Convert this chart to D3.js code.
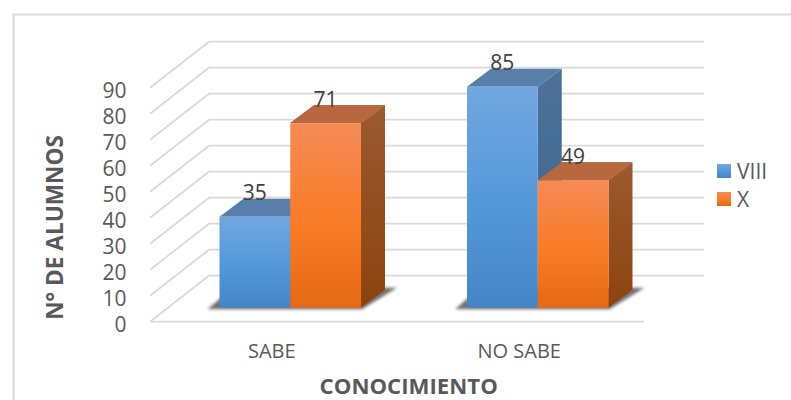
<!DOCTYPE html>
<html><head><meta charset="utf-8">
<script src="https://cdn.jsdelivr.net/npm/d3@7/dist/d3.min.js"></script>
<style>html,body{margin:0;padding:0;background:#fff}svg{display:block}text{font-family:"Open Sans",sans-serif}</style>
</head><body><svg id="c" width="791" height="400"></svg>
<script>
const categories = ["SABE", "NO SABE"];
const seriesNames = ["VIII", "X"];
const valuesVIII = [35, 85];
const valuesX = [71, 49];
const tickValues = [0,10,20,30,40,50,60,70,80,90];
const yTitle = "N° DE ALUMNOS";
const xTitle = "CONOCIMIENTO";

const svg = d3.select("#c");
const defs = svg.append("defs");
function grad(id, stops){
  const g = defs.append("linearGradient").attr("id",id).attr("x1",0).attr("y1",0).attr("x2",0).attr("y2",1);
  stops.forEach(([o,c])=>g.append("stop").attr("offset",o).attr("stop-color",c));
}
grad("fVIII",[[0,"#72a7e0"],[0.5,"#5599da"],[1,"#4485c8"]]);
grad("fX",[[0,"#f58b57"],[0.55,"#f97b25"],[1,"#e56a14"]]);
grad("sVIII",[[0,"#4e7199"],[1,"#36668f"]]);
grad("sX",[[0,"#9b5a30"],[1,"#8e430e"]]);
const tops = {VIII:"#587fa9", X:"#b7683e"};
defs.append("filter").attr("id","blur").attr("x","-20%").attr("y","-50%").attr("width","140%").attr("height","200%")
  .append("feGaussianBlur").attr("stdDeviation",1.8);

// frame
svg.append("path").attr("d","M791,14.5H13.5V400").attr("fill","none").attr("stroke","#d9d9d9").attr("stroke-width",2);

// scales
const y = d3.scaleLinear().domain([0,90]).range([321.7,87.7]);
const x0 = d3.scaleBand().domain(categories).range([166.5,661.5]);
const x1 = d3.scaleBand().domain(seriesNames).range([53,194.5]);
const floorLeft = 150, floorRight = 644, wallRight = 704;
const wallDx = 59, wallDy = -46;
const barPlaneDy = -14;
const depthDx = 24, depthDy = -18;

// grid
const grid = svg.append("g").attr("fill","none").attr("stroke","#d9d9d9").attr("stroke-width",1.8);
tickValues.forEach(v=>{
  grid.append("path").attr("d",`M${floorLeft},${y(v)}L${floorLeft+wallDx},${y(v)+wallDy}H${wallRight}`);
});
grid.append("path").attr("d",`M${floorLeft},${y(0)}H${floorRight}`);

// axis labels
const yAxis = svg.append("g").attr("transform","translate(126.5,3)")
  .call(d3.axisLeft(y).tickValues(tickValues).tickSize(0).tickPadding(0));
yAxis.select(".domain").remove();
yAxis.selectAll("text").attr("fill","#595959").style("font-size","21px").style("font-family",'"Open Sans",sans-serif');

const xAxis = svg.append("g").attr("transform","translate(-18.5,344)")
  .call(d3.axisBottom(x0).tickSize(0).tickPadding(0));
xAxis.select(".domain").remove();
xAxis.selectAll("text").attr("fill","#595959").style("font-size","20px").style("font-family",'"Open Sans",sans-serif');

svg.append("text").attr("transform","translate(54,227.5) rotate(-90)").attr("text-anchor","middle").attr("dominant-baseline","central")
  .attr("fill","#595959").style("font-size","22.6px").style("font-weight",700).text(yTitle);
svg.append("text").attr("x",408.7).attr("y",385.5).attr("text-anchor","middle").attr("dominant-baseline","central")
  .attr("fill","#595959").style("font-size","22.2px").style("font-weight",700).text(xTitle);

// bars
const base = y(0)+barPlaneDy;
const rows = categories.map((c,i)=>({c, VIII:valuesVIII[i], X:valuesX[i]}));
const bw = x1.bandwidth();
rows.forEach(r=>{
  const gx = x0(r.c);
  const left = gx+x1("VIII"), right = gx+x1("X")+bw;
  svg.append("polygon")
    .attr("points",[[left-12,base+1.5],[right+1,base+1.5],[right+36,base-20],[left+13,base-20]].join(" "))
    .attr("fill","#3a3a3a").attr("opacity",0.72).attr("filter","url(#blur)");
  seriesNames.slice().reverse().forEach(s=>{
    const bx = gx+x1(s), by = y(r[s])+barPlaneDy;
    const g = svg.append("g");
    g.append("polygon").attr("points",[[bx+bw,by],[bx+bw+depthDx,by+depthDy],[bx+bw+depthDx,base+depthDy],[bx+bw,base]].join(" "))
      .attr("fill",`url(#s${s})`);
    g.append("polygon").attr("points",[[bx,by],[bx+depthDx,by+depthDy],[bx+bw+depthDx,by+depthDy],[bx+bw,by]].join(" "))
      .attr("fill",tops[s]);
  });
  ["VIII","X"].forEach(s=>{
    const bx = gx+x1(s), by = y(r[s])+barPlaneDy;
    svg.append("rect").attr("x",bx).attr("y",by).attr("width",bw).attr("height",base-by).attr("fill",`url(#f${s})`);
    if(s==="X"){
      svg.append("polygon").attr("points",[[bx,by],[bx+depthDx,by+depthDy],[bx+bw+depthDx,by+depthDy],[bx+bw,by]].join(" ")).attr("fill",tops[s]);
    }
  });
  seriesNames.forEach(s=>{
    svg.append("text").attr("x",gx+x1(s)+bw/2).attr("y",y(r[s])+barPlaneDy-24.5)
      .attr("text-anchor","middle").attr("dominant-baseline","central")
      .attr("fill","#404040").style("font-size","21px").text(r[s]);
  });
});

// legend
const legendY = d3.scalePoint().domain(seriesNames).range([171,199]);
seriesNames.forEach(s=>{
  svg.append("rect").attr("x",717).attr("y",legendY(s)-7).attr("width",14).attr("height",14).attr("fill",`url(#f${s})`);
  svg.append("text").attr("x",737).attr("y",legendY(s)).attr("dominant-baseline","central")
    .attr("fill","#595959").style("font-size","21px").text(s);
});
</script></body></html>
